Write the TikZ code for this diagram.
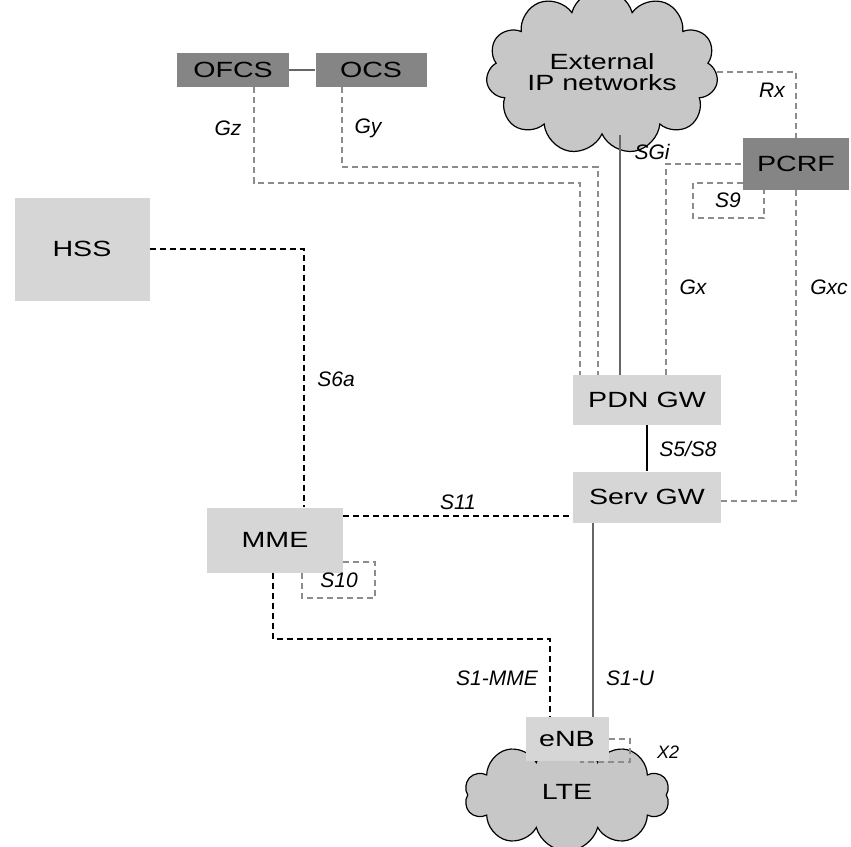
\documentclass[tikz,border=0pt]{standalone}
\usepackage{fontspec}
\setmainfont{Liberation Sans}
\newfontfamily\widefont{Liberation Sans}[FakeStretch=1.3]
\usetikzlibrary{shapes.symbols}

\begin{document}
\begin{tikzpicture}[
		x=1pt, y=-1pt
		,box/.style={inner sep=0pt, font=\widefont\fontsize{22}{25}\selectfont}
		,dark/.style={box, fill=black!48}
		,light/.style={box, fill=black!16}
		,net/.style={cloud, cloud puffs=11, aspect=1.7, draw, line width=1.2pt, fill=black!22, inner sep=0pt, font=\widefont\fontsize{22}{25}\selectfont, align=center}
		,sig/.style={dashed, dash pattern=on 6pt off 4pt, line width=1.6pt}
		,ctrl/.style={dash pattern=on 6pt off 4pt, line width=1.2pt, black!45}
		,user/.style={line width=1.6pt, black!60}
		,lbl/.style={font=\fontsize{21}{24}\selectfont\itshape}
	]
		\useasboundingbox (0,0) rectangle (851,846);

		% network elements
		\node[dark, minimum width=112, minimum height=34] (ofcs) at (233,70) {OFCS};
		\node[dark, minimum width=111, minimum height=34] (ocs) at (371,70) {OCS};
		\node[net, minimum width=232, minimum height=137] (ipnet) at (602,72) {External\\[-4pt]IP networks};
		\node[dark, minimum width=106, minimum height=52] (pcrf) at (796,164) {PCRF};
		\node[light, minimum width=135, minimum height=103] (hss) at (82,249) {HSS};
		\node[light, minimum width=148, minimum height=50] (pdn) at (647,400) {PDN GW};
		\node[light, minimum width=148, minimum height=51] (sgw) at (647,497) {Serv GW};
		\node[light, minimum width=136, minimum height=65] (mme) at (275,540) {MME};
		\node[net, minimum width=205, minimum height=112, cloud puffs=10] (lte) at (567,795) {};
		\node[light, minimum width=83, minimum height=44] (enb) at (567,739) {eNB};
		\node[box] at (567,792) {LTE};

		% bends
		\coordinate (gzc) at (580,183);
		\coordinate (gyc) at (598,167);
		\coordinate (s9c) at (693,218);
		\coordinate (s10c) at (375,598);
		\coordinate (s1c) at (550,639);
		\coordinate (x2c) at (630,762);
		\coordinate (x2e) at (580,762);

		% interfaces
		\draw[user] (ofcs.east) -- (ocs.west);
		\draw[ctrl] ([xshift=21]ofcs.south) |- (gzc) -- (gzc |- pdn.north);
		\draw[ctrl] ([xshift=-29]ocs.south) |- (gyc) -- (gyc |- pdn.north);
		\draw[user] ([xshift=-27]pdn.north) -- ([xshift=-27]pdn.north |- ipnet.south);
		\draw[ctrl] ([xshift=19]pdn.north) |- (pcrf.west);
		\draw[ctrl] (ipnet.east) -| (pcrf.north);
		\draw[ctrl] (pcrf.south) |- ([yshift=-4]sgw.east);
		\draw[ctrl] ([yshift=-19]pcrf.west) -| (s9c) -| ([xshift=-32]pcrf.south);
		\draw[sig] (hss.east) -| ([xshift=29]mme.north);
		\draw[sig] ([yshift=24]mme.east) -- ([yshift=24]mme.east -| sgw.west);
		\draw[ctrl] ([yshift=-22]mme.east) -| (s10c) -| ([xshift=27]mme.south);
		\draw[sig] ([xshift=-2]mme.south) |- (s1c) -- (s1c |- enb.north);
		\draw[line width=1.6pt] (pdn.south) -- (sgw.north);
		\draw[user] ([xshift=-54]sgw.south) -- ([xshift=-54]sgw.south |- enb.north);
		\draw[ctrl] (enb.east) -| (x2c) -- (x2e);

		% labels
		\node[lbl] at (228,128) {Gz};
		\node[lbl] at (368,128) {Gy};
		\node[lbl] at (652,152) {SGi};
		\node[lbl] at (772,90) {Rx};
		\node[lbl] at (728,200) {S9};
		\node[lbl] at (693,287) {Gx};
		\node[lbl] at (829,287) {Gxc};
		\node[lbl] at (336,379) {S6a};
		\node[lbl] at (688,449) {S5/S8};
		\node[lbl] at (458,502) {S11};
		\node[lbl] at (339,580) {S10};
		\node[lbl] at (497,678) {S1-MME};
		\node[lbl] at (630,678) {S1-U};
		\node[lbl, font=\fontsize{18}{20}\selectfont\itshape] at (668,752) {X2};
	\end{tikzpicture}
\end{document}
